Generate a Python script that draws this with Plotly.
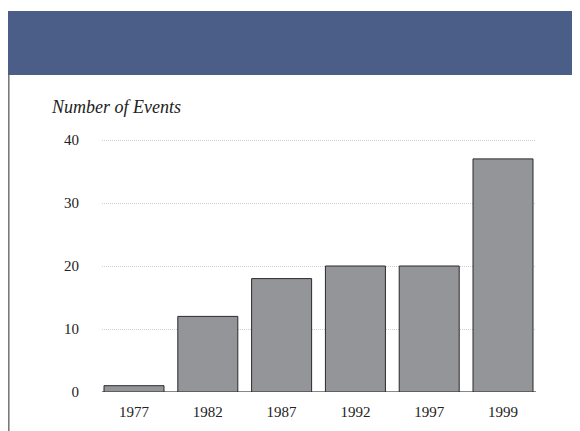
import plotly.graph_objects as go

categories = ["1977", "1982", "1987", "1992", "1997", "1999"]
values = [1, 12, 18, 20, 20, 37]
y_ticks = [0, 10, 20, 30, 40]

W, H = 580, 431
L, R, T, B = 94, 52, 130, 47
pw = W - L - R
ph = H - T - B

def px_x(p):
    return (p - L) / pw

def px_y(p):
    return (H - B - p) / ph

fig = go.Figure(go.Bar(
    x=categories, y=values,
    marker=dict(color="#949599", line=dict(color="#2a2a2a", width=1)),
    width=0.813,
))

serif = "Liberation Serif, Times New Roman, serif"

fig.update_layout(
    width=W, height=H,
    margin=dict(l=L, r=R, t=T, b=B, pad=0),
    paper_bgcolor="white", plot_bgcolor="white",
    showlegend=False,
    font=dict(family=serif, size=15, color="#222"),
    xaxis=dict(
        type="category", range=[-0.4336, 5.447], showgrid=False,
        showline=False, ticks="", tickfont=dict(family=serif, size=15, color="#222"),
        ticklabelstandoff=9, zeroline=False,
    ),
    yaxis=dict(
        range=[0, 40.317], tickvals=y_ticks, showgrid=True, gridcolor="#cfcfcf",
        griddash="1px,1px", gridwidth=1, zeroline=False, showline=False,
        tickfont=dict(family=serif, size=15, color="#222"),
        ticklabelstandoff=22,
    ),
    shapes=[
        dict(type="rect", xref="paper", yref="paper",
             x0=px_x(0), x1=px_x(580), y0=px_y(67), y1=px_y(3),
             fillcolor="#4a5e87", line=dict(width=0), layer="below"),
        dict(type="line", xref="paper", yref="paper",
             x0=px_x(0.8), x1=px_x(0.8), y0=px_y(67), y1=px_y(431),
             line=dict(color="#7a7a7a", width=1.6)),
        dict(type="line", xref="paper", yref="y",
             x0=0, x1=1, y0=0, y1=0,
             line=dict(color="#111", width=1), layer="below"),
    ],
    annotations=[
        dict(text="<i>Number of Events</i>", xref="paper", yref="paper",
             x=px_x(41), y=px_y(99), xanchor="left", yanchor="middle",
             showarrow=False, font=dict(family=serif, size=18, color="#222")),
    ],
)

fig.write_html("out.html")
